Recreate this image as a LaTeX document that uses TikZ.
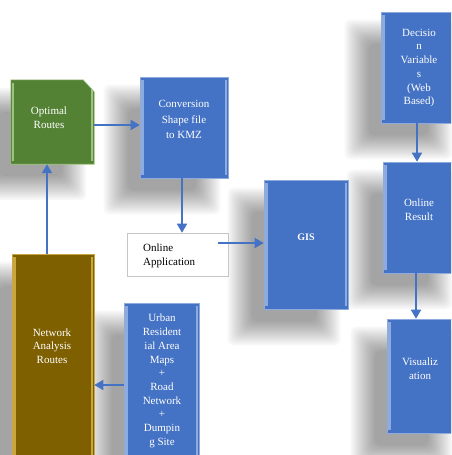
\documentclass[tikz,border=0pt]{standalone}
\usepackage{fontspec}
\setmainfont{Liberation Serif}
\usetikzlibrary{arrows.meta,backgrounds}
\definecolor{boxblue}{HTML}{4472C4}
\definecolor{lightblue}{HTML}{8FAADC}
\definecolor{boxgreen}{HTML}{548235}
\definecolor{lightgreen}{HTML}{9CC47E}
\definecolor{boxbrown}{HTML}{7F6000}
\definecolor{lightbrown}{HTML}{C9A640}
\newcommand\mysoftshadow[1]{%
  \foreach \r in {-10,-8,...,14}{%
    \fill[black,opacity=0.032,rounded corners=6pt]
      ([shift={(-22pt-\r pt,-22pt+\r pt)}]#1.north west) rectangle
      ([shift={(-22pt+\r pt,-22pt-\r pt)}]#1.south east);
  }}
\tikzset{
  bevel/.style={path picture={
    \fill[#1] ([xshift=1pt,yshift=-3pt]path picture bounding box.north west) rectangle ([xshift=3.5pt,yshift=3pt]path picture bounding box.south west);
    \fill[#1] ([xshift=-3.5pt,yshift=-3pt]path picture bounding box.north east) rectangle ([xshift=-1pt,yshift=3pt]path picture bounding box.south east);
  }},
  bluebox/.style={rectangle, inner sep=0pt, fill=boxblue, draw=lightblue, line width=0.6pt, bevel=lightblue},
  greenframe/.style={rectangle, inner sep=0pt, draw=none},
  greenfill/.style={fill=boxgreen, draw=lightgreen, line width=0.6pt, bevel=lightgreen},
  brownbox/.style={rectangle, inner sep=0pt, fill=boxbrown, draw=lightbrown, line width=0.6pt, bevel=lightbrown},
  appbox/.style={rectangle, inner sep=0pt, fill=white, draw=gray!45, line width=0.6pt},
  wtxt/.style={text=white, align=center, font=\fontsize{11}{13.7}\selectfont, inner sep=0pt},
  btxt/.style={text=black, align=left, font=\fontsize{11}{14}\selectfont, inner sep=0pt},
  arr/.style={draw=boxblue, line width=1.6pt, -{Triangle[length=9pt,width=10pt]}},
}
\begin{document}
\begin{tikzpicture}[x=1pt,y=-1pt]
\useasboundingbox (0,0) rectangle (451,455);
\clip (0,0) rectangle (451,455);

% boxes
\node[greenframe, minimum width=83pt, minimum height=84pt] (opt) at (52.5,122) {};
\path[greenfill] (opt.south west) -- (opt.north west) -- ([xshift=-11pt]opt.north east)
  -- ([yshift=-12pt]opt.north east) -- (opt.south east) -- cycle;
\node[bluebox, minimum width=88pt, minimum height=101pt] (conv) at (184,127.5) {};
\node[bluebox, minimum width=84pt, minimum height=129pt] (gis) at (306,244.5) {};
\node[bluebox, minimum width=79pt, minimum height=111pt] (dec) at (420.5,67.5) {};
\node[bluebox, minimum width=77pt, minimum height=111pt] (res) at (421.5,217.5) {};
\node[bluebox, minimum width=73pt, minimum height=114pt] (vis) at (423.5,376) {};
\node[brownbox, minimum width=82pt, minimum height=216pt] (net) at (53,362) {};
\node[bluebox, minimum width=75pt, minimum height=167pt] (urb) at (161.5,386.5) {};
\node[appbox, minimum width=101pt, minimum height=43pt] (app) at (177.5,254.5) {};

\begin{scope}[on background layer]
  \fill[white] (0,0) rectangle (451,455);
  \mysoftshadow{opt}
  \mysoftshadow{conv}
  \mysoftshadow{gis}
  \mysoftshadow{dec}
  \mysoftshadow{res}
  \mysoftshadow{vis}
  \mysoftshadow{net}
  \mysoftshadow{urb}
\end{scope}

% labels
\node[wtxt] (optt) at (49,117.5) {Optimal\\Routes};
\node[wtxt, font=\fontsize{11}{15.5}\selectfont] (convt) at (184,119.5) {Conversion\\Shape file\\to KMZ};
\node[btxt, anchor=west] (appt) at (143,256) {Online\\Application};
\node[wtxt, font=\fontsize{10}{12}\selectfont\bfseries] (gist) at (306,237) {GIS};
\node[wtxt] (dect) at (419,68) {Decisio\\n\\Variable\\s\\(Web\\Based)};
\node[wtxt] (rest) at (419,210) {Online\\Result};
\node[wtxt] (vist) at (420,369) {Visualiz\\ation};
\node[wtxt] (nett) at (52,346) {Network\\Analysis\\Routes};
\node[wtxt] (urbt) at (162,381) {Urban\\Resident\\ial Area\\Maps\\+\\Road\\Network\\+\\Dumpin\\g Site};

% connectors
\draw[arr] ([yshift=-3pt]opt.east) -- ([yshift=2.5pt]conv.west);
\draw[arr] ([xshift=-2pt]conv.south) -- ([xshift=4.5pt]app.north);
\draw[arr] ([xshift=-10pt,yshift=11.5pt]app.east) -- ([yshift=1.5pt]gis.west);
\draw[arr] ([xshift=-3.5pt]dec.south) -- ([xshift=-4.5pt]res.north);
\draw[arr] ([xshift=-5.5pt]res.south) -- ([xshift=-7.5pt]vis.north);
\draw[arr] ([xshift=-6pt]net.north) -- ([xshift=-5.5pt]opt.south);
\draw[arr] ([yshift=1.5pt]urb.west) -- ([yshift=-23pt]net.east);
\end{tikzpicture}
\end{document}
